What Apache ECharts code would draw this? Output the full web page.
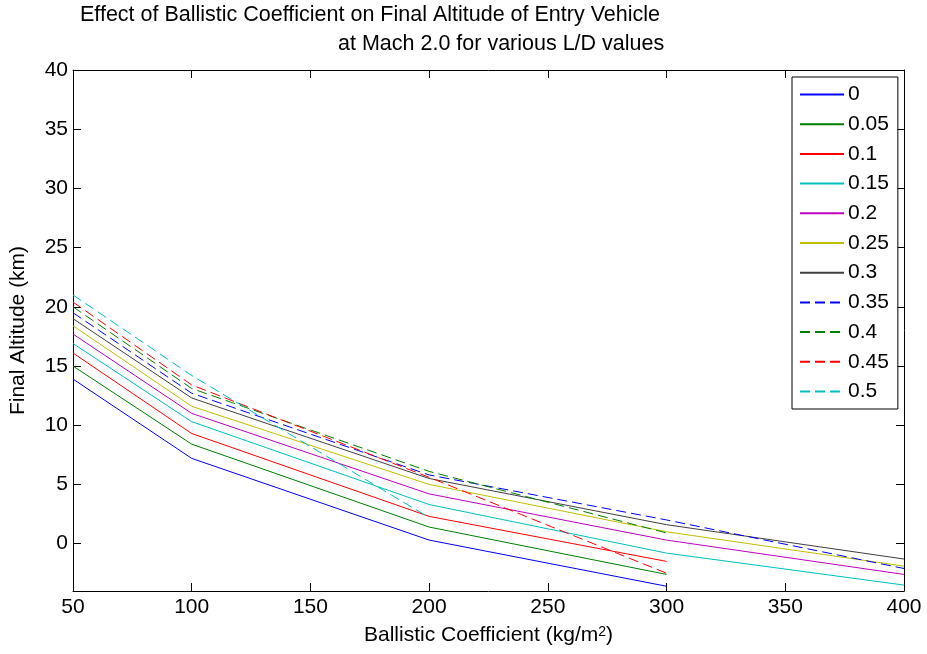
<!DOCTYPE html>
<html>
<head>
<meta charset="utf-8">
<script src="https://cdn.jsdelivr.net/npm/echarts@6/dist/echarts.min.js"></script>
<style>
html, body { margin: 0; padding: 0; background: #fff; }
#main { width: 927px; height: 654px; }
</style>
</head>
<body>
<div id="main"></div>
<script>
// x values (ballistic coefficient, kg/m^2)
var ballistic = [50, 100, 200, 300, 400];

// final altitude (km) for each L/D
var alt_000 = [13.9, 7.2, 0.3, -3.6];
var alt_005 = [15.0, 8.4, 1.4, -2.6];
var alt_010 = [16.1, 9.3, 2.3, -1.5];
var alt_015 = [16.9, 10.3, 3.3, -0.8, -3.5];
var alt_020 = [17.7, 11.0, 4.2, 0.3, -2.6];
var alt_025 = [18.4, 11.6, 5.0, 1.0, -1.9];
var alt_030 = [19.0, 12.3, 5.5, 1.6, -1.3];
var alt_035 = [19.5, 12.7, 5.8, 2.0, -2.1];
var alt_040 = [20.0, 13.1, 6.1, 0.9];
var alt_045 = [20.4, 13.4, 5.6, -2.5];
var alt_050 = [21.0, 14.2, 2.2];

var ldNames = ['0', '0.05', '0.1', '0.15', '0.2', '0.25', '0.3', '0.35', '0.4', '0.45', '0.5'];
var ldValues = [alt_000, alt_005, alt_010, alt_015, alt_020, alt_025, alt_030, alt_035, alt_040, alt_045, alt_050];
var ldColors = ['#0000ff', '#008000', '#ff0000', '#00bfbf', '#bf00bf', '#bfbf00', '#404040',
                '#0000ff', '#008000', '#ff0000', '#00bfbf'];
var ldDashed = [false, false, false, false, false, false, false, true, true, true, true];

var yTicks = [0, 5, 10, 15, 20, 25, 30, 35, 40];

var FONT = 'Liberation Sans';

var dom = document.getElementById('main');
var myChart = echarts.init(dom);

var series = ldNames.map(function (name, i) {
	var pts = ldValues[i].map(function (v, j) {
		return [ballistic[j], v];
	});
	return {
		name: name,
		type: 'line',
		data: pts,
		symbol: 'none',
		showSymbol: false,
		silent: true,
		lineStyle: {
			width: 1,
			color: ldColors[i],
			type: ldDashed[i] ? [10, 5] : 'solid'
		},
		itemStyle: { color: ldColors[i] }
	};
});

var axisLine = { show: true, onZero: false, lineStyle: { color: '#000', width: 1 } };
var tickStyle = { show: true, inside: true, length: 8, lineStyle: { color: '#000', width: 1 } };

var option = {
	backgroundColor: '#fff',
	animation: false,
	title: [{
		text: 'Effect of Ballistic Coefficient on Final Altitude of Entry Vehicle',
		left: 80,
		top: 4,
		padding: 0,
		textStyle: { fontFamily: FONT, fontSize: 21.5, fontWeight: 'normal', color: '#000' }
	}, {
		text: 'at Mach 2.0 for various L/D values',
		left: 338,
		top: 33,
		padding: 0,
		textStyle: { fontFamily: FONT, fontSize: 21.5, fontWeight: 'normal', color: '#000' }
	}],
	grid: {
		left: 71,
		right: 23,
		top: 70,
		bottom: 63
	},
	legend: {
		orient: 'vertical',
		left: 792,
		top: 77,
		backgroundColor: '#fff',
		borderColor: '#000',
		borderWidth: 1,
		borderRadius: 0,
		padding: [7, 9, 7, 7],
		itemGap: 8.7,
		itemWidth: 44,
		itemHeight: 14,
		selectedMode: false,
		itemStyle: { opacity: 0 },
		textStyle: { fontFamily: FONT, fontSize: 21, color: '#000', padding: [0, 0, 0, -1] },
		data: ldNames
	},
	xAxis: [{
		type: 'value',
		min: 50,
		max: 400,
		interval: 50,
		name: 'Ballistic Coefficient (kg/m{sup|2})',
		nameLocation: 'middle',
		nameGap: 34,
		nameTextStyle: {
			fontFamily: FONT, fontSize: 21, color: '#000',
			rich: { sup: { fontFamily: FONT, fontSize: 14, color: '#000', verticalAlign: 'top' } }
		},
		axisLine: axisLine,
		axisTick: tickStyle,
		axisLabel: { fontFamily: FONT, fontSize: 21, color: '#000', margin: 6 },
		splitLine: { show: false }
	}, {
		type: 'value',
		position: 'top',
		min: 50,
		max: 400,
		interval: 50,
		axisLine: axisLine,
		axisTick: tickStyle,
		axisLabel: { show: false },
		splitLine: { show: false }
	}],
	yAxis: [{
		type: 'value',
		min: -4,
		max: 40,
		name: 'Final Altitude (km)',
		nameLocation: 'middle',
		nameGap: 44,
		nameTextStyle: { fontFamily: FONT, fontSize: 21, color: '#000' },
		axisLine: axisLine,
		axisTick: { show: true, inside: true, length: 8, lineStyle: { color: '#000', width: 1 }, customValues: yTicks },
		axisLabel: { fontFamily: FONT, fontSize: 21, color: '#000', margin: 5, customValues: yTicks },
		splitLine: { show: false }
	}, {
		type: 'value',
		position: 'right',
		min: -4,
		max: 40,
		axisLine: axisLine,
		axisTick: { show: true, inside: true, length: 8, lineStyle: { color: '#000', width: 1 }, customValues: yTicks },
		axisLabel: { show: false, customValues: yTicks },
		splitLine: { show: false }
	}],
	series: series
};

myChart.setOption(option, true);
</script>
</body>
</html>
